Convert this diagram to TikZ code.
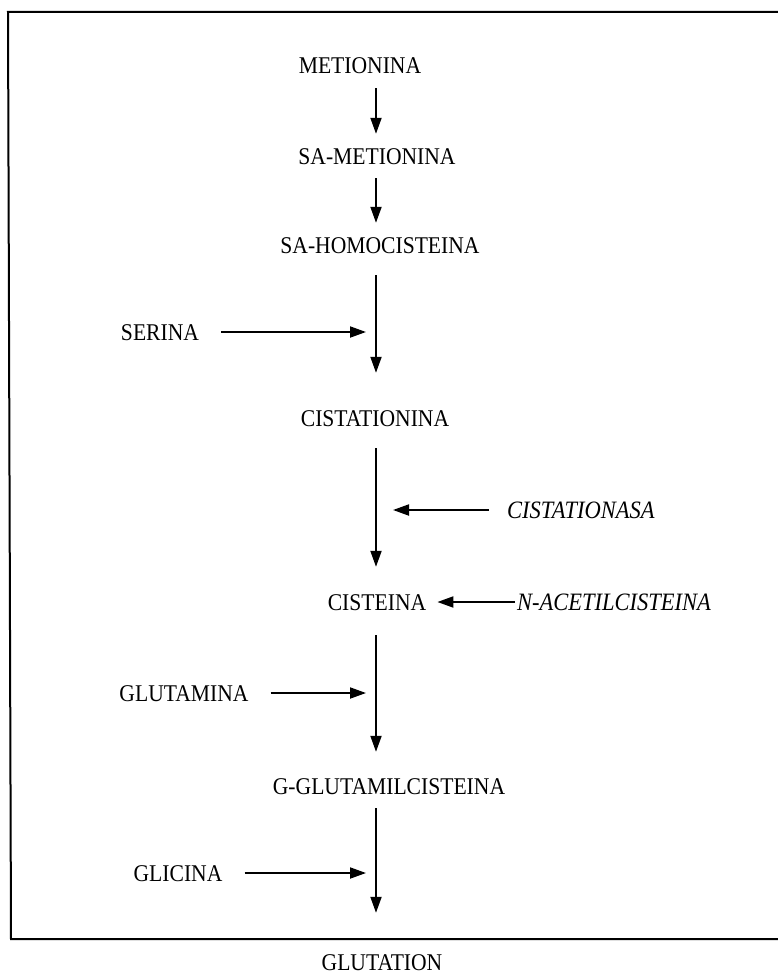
\documentclass[tikz,border=0pt]{standalone}
\usepackage{fontspec}
\setmainfont{Liberation Serif}[FakeStretch=0.9]
\usepackage{tikz}
\usetikzlibrary{arrows.meta, calc}
\tikzset{
  mol/.style={inner xsep=0pt, inner ysep=14pt, text height=16pt, text depth=0pt,
    font=\fontsize{24}{28}\selectfont},
  enz/.style={mol, anchor=west, font=\fontsize{25}{29}\selectfont\itshape},
  arrow/.style={-{Triangle[length=16pt,width=11pt]}, line width=1.9pt},
  feed/.style={arrow, shorten <=22pt, shorten >=10pt},
  frame/.style={line width=2pt}
}

\begin{document}
\begin{tikzpicture}[x=1pt, y=-1pt]
  \useasboundingbox (0,0) rectangle (778,974);
  \draw[frame] (778,12) -- (8,12) -- (11,939) -- (778,939);
  \coordinate (colx) at (376,0);
  % main chain
  \node[mol] (met) at (360,66) {METIONINA};
  \node[mol] (samet) at (377,156) {SA-METIONINA};
  \node[mol] (sahomo) at (380,245) {SA-HOMOCISTEINA};
  \node[mol] (cistat) at (375,418) {CISTATIONINA};
  \node[mol] (cis) at (377,602) {CISTEINA};
  \node[mol] (ggl) at (389,786) {G-GLUTAMILCISTEINA};
  \node[mol, inner ysep=2pt] (glu) at (382,962) {GLUTATION};
  % side inputs
  \node[mol] (ser) at (160,332) {SERINA};
  \node[enz] (cisasa) at (507,510) {CISTATIONASA};
  \node[enz] (nac) at (517,602) {N-ACETILCISTEINA};
  \node[mol] (gln) at (184,693) {GLUTAMINA};
  \node[mol] (gly) at (178,873) {GLICINA};
  \draw[arrow] (met.south -| colx) -- (samet.north -| colx);
  \draw[arrow] (samet.south -| colx) -- (sahomo.north -| colx);
  \draw[arrow, shorten <=8pt, shorten >=23pt] (sahomo.south -| colx) -- (cistat.north -| colx);
  \draw[arrow, shorten <=8pt, shorten >=13pt] (cistat.south -| colx) -- (cis.north -| colx);
  \draw[arrow, shorten <=11pt, shorten >=12pt] (cis.south -| colx) -- (ggl.north -| colx);
  \draw[arrow, shorten >=39pt] (ggl.south -| colx) -- (glu.north -| colx);
  \draw[feed] (ser) -- (ser -| colx);
  \draw[arrow, shorten <=18pt, shorten >=17pt] (cisasa.west) -- (cisasa.west -| colx);
  \draw[arrow, shorten <=2pt, shorten >=11pt] (nac.west) -- (cis.east);
  \draw[feed] (gln) -- (gln -| colx);
  \draw[feed] (gly) -- (gly -| colx);
\end{tikzpicture}
\end{document}
